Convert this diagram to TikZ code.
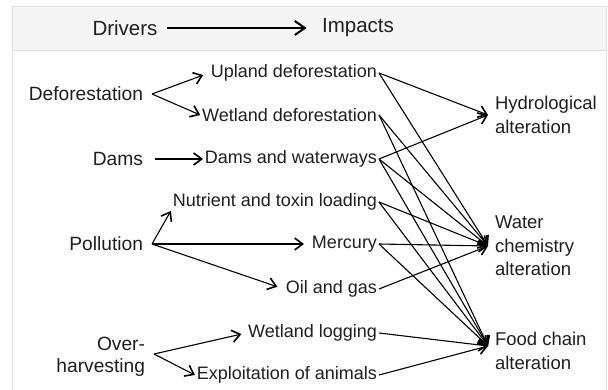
\documentclass[tikz,border=0pt]{standalone}
\usepackage{fontspec}
\setmainfont{Liberation Sans}
\usetikzlibrary{arrows.meta}

\begin{document}
\begin{tikzpicture}[x=1pt, y=-1pt, line width=1.1pt,
  arrows={-Straight Barb[length=8pt,width=12pt,line width=1.6pt]},
  every node/.style={font=\fontsize{18}{23.5}\selectfont, text=black!88, inner sep=0pt},
  head/.style={font=\fontsize{20.5}{24}\selectfont},
  driver/.style={anchor=east, outer xsep=9pt, align=right, font=\fontsize{19.2}{22}\selectfont},
  effect/.style={anchor=east, outer xsep=2pt},
  impact/.style={anchor=west, outer xsep=7pt, align=left, font=\fontsize{18.5}{23.5}\selectfont},
  gap/.style={shorten >=#1}]
	\useasboundingbox (0,0) rectangle (608,390);
	% frame and header band
	\draw[line width=0.8pt, draw=black!12] (12.5,50) rectangle (606.5,400);
	\filldraw[line width=0.8pt, draw=black!12, fill=black!4] (12.5,6) rectangle (606.5,50);
	\node[head] (drv) at (125,28) {Drivers};
	\node[head] (imp) at (358,28) {Impacts};
	\draw[line width=1.8pt, shorten <=9pt, shorten >=15pt,
	  arrows={-Straight Barb[length=10pt,width=14pt,line width=2pt]}] (drv) -- (imp);
	% drivers
	\node[driver] (defo) at (152,94) {Deforestation};
	\node[driver] (dams) at (152,159) {Dams};
	\node[driver] (poll) at (152,244) {Pollution};
	\node[driver] (over) at (154,357) {Over-\\harvesting};
	% pressures
	\node[effect] (upl) at (379,73) {Upland deforestation};
	\node[effect] (wet) at (379,115) {Wetland deforestation};
	\node[effect] (dw) at (379,159) {Dams and waterways};
	\node[effect] (nut) at (379,202) {Nutrient and toxin loading};
	\node[effect] (merc) at (379,244) {Mercury};
	\node[effect] (oil) at (379,289) {Oil and gas};
	\node[effect] (log) at (379,333) {Wetland logging};
	\node[effect] (expl) at (379,375) {Exploitation of animals};
	% impacts
	\node[impact] (hyd) at (488,115) {Hydrological\\alteration};
	\node[impact] (wat) at (488,246) {Water\\chemistry\\alteration};
	\node[impact] (food) at (488,351) {Food chain\\alteration};
	% drivers to pressures
	\draw[gap=6pt] (defo.east) -- (upl.west);
	\draw (defo.east) -- (wet.west);
	\draw[shorten <=3pt] (dams.east) -- (dw.west);
	\draw (poll.east) -- (nut.south west);
	\draw[gap=6pt] (poll.east) -- (merc.west);
	\draw[gap=7pt] (poll.east) -- (oil.west);
	\draw[gap=5pt] ([yshift=3pt]over.east) -- (log.west);
	\draw ([yshift=3pt]over.east) -- (expl.west);
	% pressures to impacts
	\draw (upl.east) -- (hyd.west);
	\draw (upl.east) -- (wat.west);
	\draw (wet.east) -- (wat.west);
	\draw (wet.east) -- ([yshift=5pt]food.west);
	\draw (dw.east) -- (hyd.west);
	\draw (dw.east) -- (wat.west);
	\draw (dw.east) -- ([yshift=5pt]food.west);
	\draw (nut.east) -- (wat.west);
	\draw (nut.east) -- ([yshift=5pt]food.west);
	\draw (merc.east) -- (wat.west);
	\draw (merc.east) -- ([yshift=5pt]food.west);
	\draw (oil.east) -- (wat.west);
	\draw (log.east) -- ([yshift=5pt]food.west);
	\draw (expl.east) -- ([yshift=5pt]food.west);
\end{tikzpicture}
\end{document}
